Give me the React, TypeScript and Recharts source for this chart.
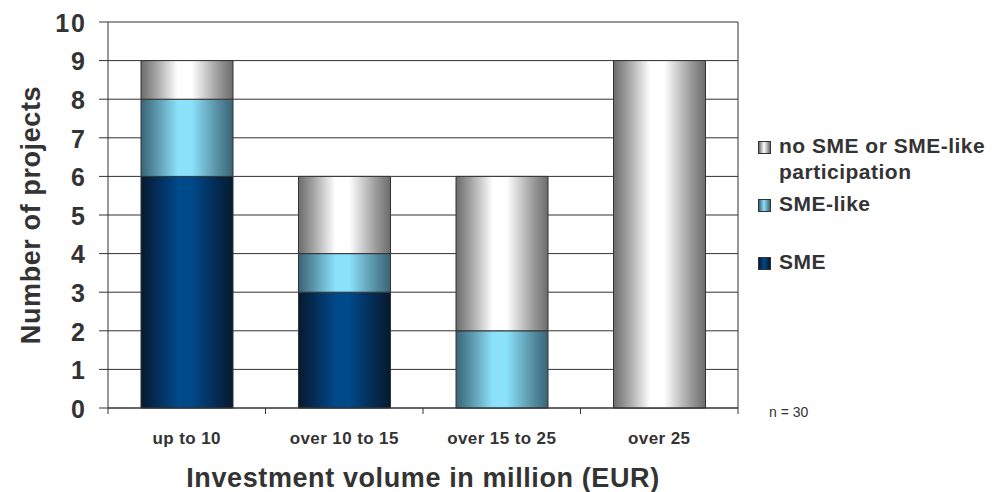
import { BarChart, Bar, XAxis, YAxis, CartesianGrid, Label } from 'recharts';

const categories = ['up to 10', 'over 10 to 15', 'over 15 to 25', 'over 25'];
const smeValues = [6, 3, 0, 0];
const smeLikeValues = [2, 1, 2, 0];
const noSmeValues = [1, 2, 4, 9];
const yTicks = [0, 1, 2, 3, 4, 5, 6, 7, 8, 9, 10];

const seriesInfo = [
  { key: 'noSme', label: 'no SME or SME-like participation', grad: 'gradGray', edge: '#6c6c6c', mid: '#ffffff' },
  { key: 'smeLike', label: 'SME-like', grad: 'gradLight', edge: '#3b6477', mid: '#8be1fa' },
  { key: 'sme', label: 'SME', grad: 'gradDark', edge: '#061a30', mid: '#00498a' },
];

const data = categories.map((name, i) => ({
  name,
  sme: smeValues[i],
  smeLike: smeLikeValues[i],
  noSme: noSmeValues[i],
}));

const textColor = '#333333';
const font = 'Arial, "Liberation Sans", sans-serif';

function CatTick(props: any) {
  const { x, y, payload, index, visibleTicksCount } = props;
  const half = payload.offset || 0;
  const top = y - 8;
  return (
    <g>
      <line x1={x - half} x2={x - half} y1={top} y2={top + 6} stroke="#333" />
      {index === visibleTicksCount - 1 && (
        <line x1={x + half} x2={x + half} y1={top} y2={top + 6} stroke="#333" />
      )}
      <text
        x={x}
        y={top + 36}
        textAnchor="middle"
        fill={textColor}
        fontSize={17}
        fontWeight="bold"
        fontFamily={font}
        letterSpacing={0.4}
      >
        {payload.value}
      </text>
    </g>
  );
}

function LegendBox() {
  return (
    <div style={{ fontFamily: font, fontWeight: 'bold', fontSize: 21, letterSpacing: 0.5, color: textColor, width: 235 }}>
      {seriesInfo.map((s, i) => (
        <div key={s.key} style={{ display: 'flex', alignItems: 'flex-start', marginBottom: i === 1 ? 32 : 6, lineHeight: '26px' }}>
          <span
            style={{
              display: 'inline-block',
              width: 11,
              height: 11,
              marginTop: 8,
              marginRight: 8,
              flexShrink: 0,
              border: '1px solid #333',
              background: `linear-gradient(to right, ${s.edge}, ${s.mid} 45%, ${s.edge})`,
            }}
          />
          <span>{s.label}</span>
        </div>
      ))}
    </div>
  );
}

function mix(a: string, b: string, t: number) {
  const pa = [1, 3, 5].map((k) => parseInt(a.slice(k, k + 2), 16));
  const pb = [1, 3, 5].map((k) => parseInt(b.slice(k, k + 2), 16));
  return 'rgb(' + pa.map((v, i) => Math.round(v + (pb[i] - v) * t)).join(',') + ')';
}

function gradient(id: string, edge: string, mid: string) {
  return (
    <linearGradient id={id} x1="0" y1="0" x2="1" y2="0">
      <stop offset="0%" stopColor={edge} />
      <stop offset="15%" stopColor={mix(edge, mid, 0.35)} />
      <stop offset="40%" stopColor={mid} />
      <stop offset="55%" stopColor={mid} />
      <stop offset="85%" stopColor={mix(edge, mid, 0.3)} />
      <stop offset="100%" stopColor={edge} />
    </linearGradient>
  );
}

export default function App() {
  return (
    <div style={{ position: 'absolute', left: 0, top: 0, width: 993, height: 492, background: '#fff' }}>
      <BarChart
        width={993}
        height={492}
        data={data}
        margin={{ top: 22, right: 255, bottom: 0, left: 0 }}
        barSize={92}
      >
        <defs>
          {seriesInfo.map((s) => (
            <g key={s.grad}>{gradient(s.grad, s.edge, s.mid)}</g>
          ))}
        </defs>
        <CartesianGrid stroke="#333" vertical={true} verticalPoints={[738]} />
        <XAxis
          dataKey="name"
          height={84}
          tick={<CatTick />}
          tickLine={false}
          axisLine={{ stroke: '#333' }}
          interval={0}
        >
          <Label
            content={(p: any) => (
              <text
                x={p.viewBox.x + p.viewBox.width / 2}
                y={p.viewBox.y + 79}
                textAnchor="middle"
                fill={textColor}
                fontSize={27}
                fontWeight="bold"
                fontFamily={font}
                letterSpacing={0.6}
              >
                Investment volume in million (EUR)
              </text>
            )}
          />
        </XAxis>
        <YAxis
          width={108}
          domain={[0, 10]}
          ticks={yTicks}
          interval={0}
          tickSize={9}
          tickMargin={12}
          axisLine={{ stroke: '#333' }}
          tickLine={{ stroke: '#333' }}
          tick={{ fill: textColor, fontSize: 25, fontWeight: 'bold', fontFamily: font, dy: 1, letterSpacing: 2 }}
        >
          <Label
            content={(p: any) => (
              <text
                transform={`translate(${p.viewBox.x + 40}, ${p.viewBox.y + p.viewBox.height / 2}) rotate(-90)`}
                textAnchor="middle"
                fill={textColor}
                fontSize={27}
                fontWeight="bold"
                fontFamily={font}
                letterSpacing={0.6}
              >
                Number of projects
              </text>
            )}
          />
        </YAxis>
        <Bar dataKey="sme" stackId="a" fill="url(#gradDark)" stroke="#333" isAnimationActive={false} />
        <Bar dataKey="smeLike" stackId="a" fill="url(#gradLight)" stroke="#333" isAnimationActive={false} />
        <Bar dataKey="noSme" stackId="a" fill="url(#gradGray)" stroke="#333" isAnimationActive={false} />
      </BarChart>
      <div style={{ position: 'absolute', left: 758, top: 133 }}>
        <LegendBox />
      </div>
      <div
        style={{
          position: 'absolute',
          left: 769,
          top: 404,
          fontFamily: font,
          fontSize: 14,
          color: textColor,
        }}
      >
        n = 30
      </div>
    </div>
  );
}
